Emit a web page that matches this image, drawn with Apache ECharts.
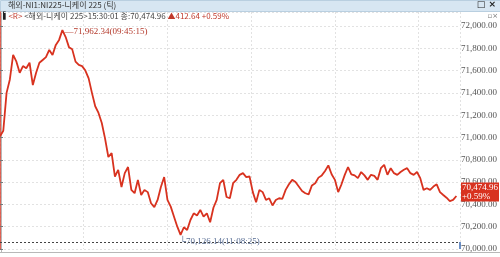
<!DOCTYPE html>
<html>
<head>
<meta charset="utf-8">
<script src="https://cdn.jsdelivr.net/npm/echarts@6/dist/echarts.min.js"></script>
<style>
  html, body { margin: 0; padding: 0; background: #fff; }
  #chart { width: 500px; height: 257px; }
</style>
</head>
<body>
<div id="chart"></div>
<script>
// 니케이 225 tick prices, roughly evenly spaced through the session
var prices = [
  71010, 71060, 71400, 71520, 71740, 71680, 71580, 71640, 71620, 71670,
  71470, 71580, 71670, 71695, 71720, 71785, 71740, 71830, 71875, 71962.34,
  71900, 71810, 71790, 71680, 71650, 71640, 71600, 71530, 71400, 71280,
  71220, 71130, 70990, 70825, 70860, 70650, 70710, 70556, 70680, 70735,
  70530, 70500, 70620, 70484, 70530, 70510, 70410, 70375, 70440, 70556,
  70645, 70440, 70380, 70290, 70200, 70126.14, 70195, 70170, 70260, 70320,
  70300, 70350, 70290, 70320, 70240, 70370, 70440, 70590, 70620, 70466,
  70455, 70590, 70620, 70665, 70680, 70645, 70650, 70510, 70420, 70530,
  70510, 70440, 70455, 70390, 70440, 70455, 70450, 70530, 70580, 70620,
  70600, 70560, 70520, 70500, 70490, 70570, 70590, 70640, 70660, 70700,
  70750, 70670, 70620, 70510, 70580, 70665, 70735, 70670, 70660, 70635,
  70690, 70660, 70620, 70665, 70655, 70620, 70725, 70755, 70665, 70725,
  70680, 70665, 70690, 70710, 70725, 70680, 70665, 70690, 70635, 70530,
  70545, 70530, 70560, 70580, 70510, 70484, 70460, 70430, 70440, 70474.96
];
var prevClose = 70062.32;
var lastPrice = 70474.96;
var change = 412.64;
var changePct = 0.59;
var yTicks = [70000, 70200, 70400, 70600, 70800, 71000, 71200, 71400, 71600, 71800, 72000];

var xMax = 140.1;
var red = '#d8321f';
var blue = '#3d6db5';

function fmt(v) {
  return v.toLocaleString('en-US', { minimumFractionDigits: 2, maximumFractionDigits: 2 });
}

var seriesData = prices.map(function (v, i) { return [i, v]; });
var maxIdx = prices.indexOf(Math.max.apply(null, prices));
var minIdx = prices.indexOf(Math.min.apply(null, prices));

var chart = echarts.init(document.getElementById('chart'));
var option = {
  animation: false,
  backgroundColor: '#fff',
  grid: { left: 0, right: 33, top: 12, bottom: 8 },
  xAxis: {
    type: 'value',
    min: 0,
    max: xMax,
    interval: 25.5,
    axisLine: { show: false },
    axisTick: { show: false },
    axisLabel: { show: false },
    splitLine: { lineStyle: { color: '#e2e2e2', type: [2, 2] } }
  },
  yAxis: {
    type: 'value',
    position: 'right',
    min: 70000,
    max: 72125,
    interval: 200,
    axisLine: { show: true, lineStyle: { color: red, width: 1.5 } },
    axisTick: { show: true, length: 3, lineStyle: { color: '#777' } },
    axisLabel: {
      showMaxLabel: false,
      margin: 1,
      color: '#555',
      fontSize: 9,
      fontFamily: 'Liberation Sans Narrow',
      formatter: function (v) { return yTicks.indexOf(v) >= 0 ? fmt(v) : ''; }
    },
    splitLine: { lineStyle: { color: '#e2e2e2', type: [2, 2] } }
  },
  series: [{
    type: 'line',
    data: seriesData,
    showSymbol: false,
    lineStyle: { color: red, width: 1.8 },
    itemStyle: { color: red },
    markLine: {
      silent: true,
      symbol: 'none',
      label: { show: false },
      data: [
        [{ coord: [0, prevClose], lineStyle: { color: '#444', type: [2, 2], width: 1 } },
         { coord: [xMax - 0.6, prevClose] }],
        [{ coord: [xMax, 70000], lineStyle: { color: blue, type: 'solid', width: 1.5 } },
         { coord: [xMax, prevClose] }]
      ]
    },
    markPoint: {
      silent: true,
      symbol: 'rect',
      symbolSize: 0,
      data: [
        {
          coord: [maxIdx, prices[maxIdx]],
          label: {
            position: 'right',
            distance: 2,
            offset: [0, 1],
            color: '#b4392b',
            fontSize: 9,
            fontFamily: 'Liberation Sans Narrow',
            formatter: '\u2014' + fmt(prices[maxIdx]) + '(09:45:15)'
          }
        },
        {
          coord: [minIdx, prices[minIdx]],
          label: {
            position: [-1, 2],
            color: '#5a6f95',
            fontSize: 9,
            fontFamily: 'Liberation Sans Narrow',
            formatter: '\u2514' + fmt(prices[minIdx]) + '(11:08:25)'
          }
        },
        {
          coord: [xMax, lastPrice],
          label: {
            position: 'right',
            distance: 1,
            offset: [0, -4],
            color: '#fff',
            backgroundColor: red,
            padding: [1, 1, 0, 1],
            lineHeight: 9,
            fontSize: 9,
            fontFamily: 'Liberation Sans Narrow',
            formatter: fmt(lastPrice) + '\n+' + changePct.toFixed(2) + '%'
          }
        }
      ]
    }
  }],
  graphic: [
    { type: 'rect', left: 0, top: 0, shape: { width: 500, height: 11 },
      style: { fill: '#d7e6f2', stroke: '#b9cfe0' }, silent: true },
    { type: 'text', left: 8, top: 1,
      style: { text: '해외-NI1:NI225-니케이 225 (틱)', fill: '#333',
        font: '8px "Noto Sans CJK KR"' } },
    { type: 'text', right: 4, top: 0,
      style: { text: '□ ×', fill: '#222', font: 'bold 9px "DejaVu Sans"' } },
    { type: 'text', left: 3, top: 12,
      style: {
        text: '{b|▌}{r|<R>} {g|<해외-니케이 225>15:30:01 종:' + fmt(lastPrice) + '} {r|▲' + fmt(change) + ' +' + changePct.toFixed(2) + '%}',
        font: '8px "Noto Sans CJK KR"',
        rich: {
          b: { fill: '#222', font: '7px "DejaVu Sans"' },
          r: { fill: '#c0392b', font: '8px "Noto Sans CJK KR"' },
          g: { fill: '#444', font: '8px "Noto Sans CJK KR"' }
        }
      } },
    { type: 'text', right: 2, top: 13,
      style: { text: '▫×', fill: '#777', font: '7px "DejaVu Sans"' } },
    { type: 'line', shape: { x1: 1.5, y1: 11, x2: 1.5, y2: 252 },
      style: { stroke: '#b8b8b8', lineWidth: 1 }, silent: true },
    { type: 'line', shape: { x1: 0, y1: 252.5, x2: 500, y2: 252.5 },
      style: { stroke: '#b8b8b8', lineWidth: 1 }, silent: true }
  ]
};
chart.setOption(option);
</script>
</body>
</html>
